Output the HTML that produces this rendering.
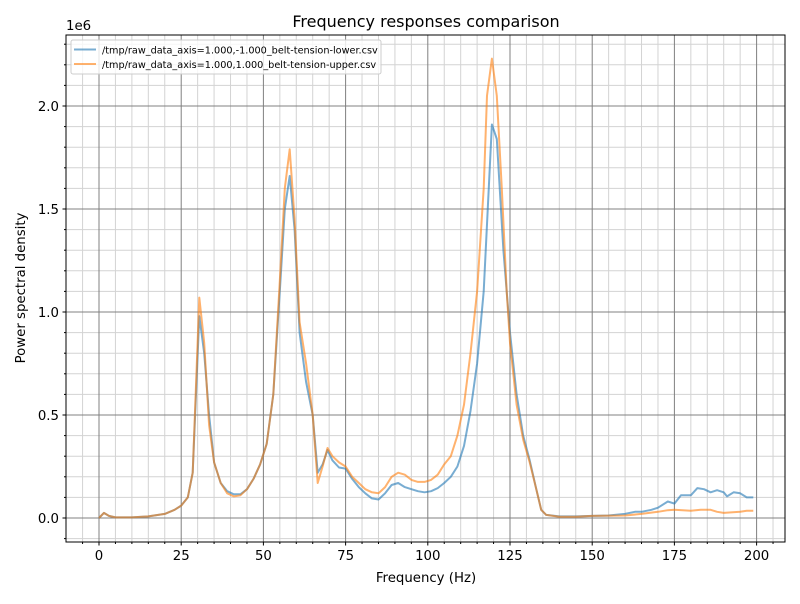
<!DOCTYPE html>
<html><head><meta charset="utf-8"><style>
body{margin:0;background:#fff;width:800px;height:600px;overflow:hidden;font-family:"DejaVu Sans","Liberation Sans",sans-serif}
</style></head><body>
<svg id="s" width="800" height="600" xmlns="http://www.w3.org/2000/svg" font-family="DejaVu Sans, Liberation Sans, sans-serif"></svg>
<script>
const s=document.getElementById('s');
const L=66,R=785,T=35,B=542;
const X=f=>99+f*3.288, Y=v=>518-v*206;
let h='';
for(let f=-5;f<=205;f+=5){if(f%25)h+=`<line x1="${X(f)}" x2="${X(f)}" y1="${T}" y2="${B}" stroke="#d3d3d3" stroke-width="1"/>`;}
for(let v=-1;v<=23;v++){if(v%5)h+=`<line x1="${L}" x2="${R}" y1="${Y(v/10)}" y2="${Y(v/10)}" stroke="#d3d3d3" stroke-width="1"/>`;}
for(let f=0;f<=200;f+=25)h+=`<line x1="${X(f)}" x2="${X(f)}" y1="${T}" y2="${B}" stroke="#808080" stroke-width="1"/>`;
for(let v=0;v<=2;v+=0.5)h+=`<line x1="${L}" x2="${R}" y1="${Y(v)}" y2="${Y(v)}" stroke="#808080" stroke-width="1"/>`;
const common=[[0,0],[1.5,0.025],[3,0.01],[5,0.003],[10,0.003],[15,0.008],[20,0.02],[23,0.04],[25,0.06],[27,0.1],[28.5,0.22]];
const blue=common.concat([[30.5,0.98],[32,0.8],[33.5,0.5],[35,0.27],[37,0.17],[39,0.13],[41,0.115],[43,0.115],[45,0.14],[47,0.19],[49,0.26],[51,0.36],[53,0.6],[55,1.1],[56.5,1.5],[58,1.66],[59.5,1.4],[61,0.9],[63,0.66],[65,0.5],[66.5,0.22],[68,0.26],[69.5,0.33],[71,0.28],[73,0.245],[75,0.24],[77,0.19],[79,0.15],[81,0.12],[83,0.095],[85,0.09],[87,0.12],[89,0.16],[91,0.17],[93,0.15],[95,0.14],[97,0.13],[99,0.125],[101,0.13],[103,0.145],[105,0.17],[107,0.2],[109,0.25],[111,0.35],[113,0.52],[115,0.75],[117,1.1],[119.5,1.91],[121,1.84],[123,1.3],[125,0.9],[127,0.6],[129,0.4],[131,0.28],[133,0.14],[134.5,0.04],[136,0.015],[140,0.008],[145,0.008],[150,0.01],[155,0.012],[160,0.02],[163,0.03],[165,0.03],[168,0.04],[170,0.05],[173,0.08],[175,0.07],[177,0.11],[180,0.11],[182,0.145],[184,0.14],[186,0.125],[188,0.135],[190,0.125],[191,0.105],[193,0.125],[195,0.12],[197,0.1],[199,0.1]]);
const orange=common.concat([[30.5,1.07],[32,0.85],[33.5,0.45],[35,0.27],[37,0.17],[39,0.12],[41,0.105],[43,0.11],[45,0.14],[47,0.19],[49,0.26],[51,0.36],[53,0.6],[55,1.15],[56.5,1.6],[58,1.79],[59.5,1.45],[61,0.95],[63,0.75],[65,0.5],[66.5,0.17],[68,0.25],[69.5,0.34],[71,0.3],[73,0.27],[75,0.25],[77,0.2],[79,0.17],[81,0.14],[83,0.125],[85,0.12],[87,0.15],[89,0.2],[91,0.22],[93,0.21],[95,0.185],[97,0.175],[99,0.175],[101,0.185],[103,0.21],[105,0.26],[107,0.3],[109,0.4],[111,0.55],[113,0.8],[115,1.1],[117,1.6],[118,2.05],[119.5,2.23],[121,2.05],[122.5,1.6],[124,1.1],[125,0.85],[127,0.55],[129,0.38],[131,0.27],[133,0.14],[134.5,0.04],[136,0.015],[140,0.006],[145,0.006],[150,0.01],[160,0.012],[165,0.02],[170,0.03],[173,0.038],[175,0.04],[180,0.035],[183,0.04],[186,0.04],[188,0.03],[190,0.025],[195,0.03],[197,0.035],[199,0.035]]);
const pl=(d,c)=>`<polyline fill="none" stroke="${c}" stroke-opacity="0.6" stroke-width="2" stroke-linejoin="round" points="${d.map(p=>X(p[0]).toFixed(1)+','+Y(p[1]).toFixed(1)).join(' ')}"/>`;
h+=pl(blue,'#1f77b4')+pl(orange,'#ff7f0e');
h+=`<rect x="${L}" y="${T}" width="${R-L}" height="${B-T}" fill="none" stroke="#000" stroke-width="1"/>`;
for(let f=-5;f<=205;f+=5){const maj=f%25==0;h+=`<line x1="${X(f)}" x2="${X(f)}" y1="${B}" y2="${B+(maj?3.5:2)}" stroke="#000"/>`;if(maj&&f>=0)h+=`<text x="${X(f)}" y="${B+18}" font-size="13.3" text-anchor="middle">${f}</text>`;}
for(let v=-1;v<=23;v++){const maj=v%5==0;h+=`<line x1="${L}" x2="${L-(maj?3.5:2)}" y1="${Y(v/10)}" y2="${Y(v/10)}" stroke="#000"/>`;if(maj&&v>=0)h+=`<text x="${L-7}" y="${Y(v/10)+5}" font-size="13.3" text-anchor="end">${(v/10).toFixed(1)}</text>`;}
h+=`<text x="66" y="30" font-size="13.3">1e6</text>`;
h+=`<text x="426" y="27" font-size="16" text-anchor="middle">Frequency responses comparison</text>`;
h+=`<text x="426" y="582" font-size="13.3" text-anchor="middle">Frequency (Hz)</text>`;
h+=`<text transform="translate(25,288) rotate(-90)" font-size="13.3" text-anchor="middle">Power spectral density</text>`;
h+=`<rect x="71" y="40" width="310" height="34" rx="2" fill="#fff" fill-opacity="0.8" stroke="#ccc"/>`;
h+=`<line x1="74" x2="96" y1="49.5" y2="49.5" stroke="#1f77b4" stroke-opacity="0.6" stroke-width="2"/>`;
h+=`<line x1="74" x2="96" y1="64" y2="64" stroke="#ff7f0e" stroke-opacity="0.6" stroke-width="2"/>`;
h+=`<text x="102" y="53.5" font-size="9.7">/tmp/raw_data_axis=1.000,-1.000_belt-tension-lower.csv</text>`;
h+=`<text x="102" y="68" font-size="9.7">/tmp/raw_data_axis=1.000,1.000_belt-tension-upper.csv</text>`;
s.innerHTML=h;
</script>
</body></html>
